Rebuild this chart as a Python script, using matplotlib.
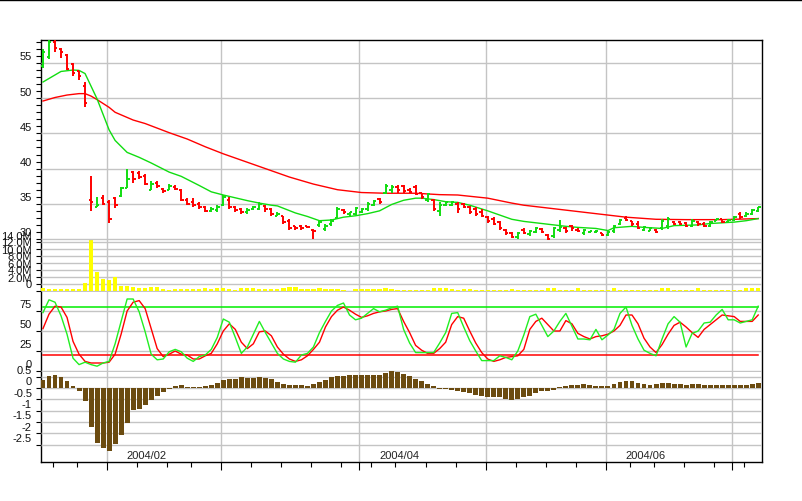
import pandas as pd
import matplotlib
matplotlib.use('Agg')
import matplotlib.pyplot as plt
from matplotlib.collections import LineCollection
from matplotlib.lines import Line2D
from matplotlib.transforms import ScaledTranslation

plt.rcParams['font.family'] = ['Liberation Sans', 'DejaVu Sans']
plt.rcParams['font.size'] = 8

# datas (pregoes, sem feriados)
feriados = ['2004-01-19', '2004-02-16', '2004-04-09', '2004-05-31', '2004-06-11', '2004-07-05']
datas = pd.bdate_range('2004-01-15', '2004-07-08', freq='C', holidays=feriados)

abertura = [54.6, 55.8, 58.0, 57.0, 56.2, 54.8, 53.8, 51.8, 35.5, 34.6,
            35.8, 35.3, 35.8, 36.1, 37.3, 39.5, 39.4, 39.0, 37.0, 38.0,
            37.1, 37.0, 37.4, 37.0, 35.6, 35.2, 35.0, 34.5, 34.0, 34.1,
            34.9, 35.6, 34.6, 34.3, 33.8, 34.2, 34.3, 34.7, 34.2, 33.3,
            33.2, 32.6, 31.8, 31.8, 31.8, 31.3, 32.0, 31.4, 32.1, 33.0,
            34.1, 33.5, 33.6, 33.9, 34.2, 34.9, 35.7, 36.6, 36.9, 37.4,
            37.5, 37.0, 37.4, 36.5, 35.5, 35.5, 34.0, 34.9, 34.9, 35.0,
            35.0, 34.5, 34.2, 33.9, 33.1, 32.9, 32.4, 31.3, 30.9, 30.3,
            31.3, 30.7, 31.0, 31.4, 30.6, 30.4, 31.3, 31.5, 31.8, 31.3,
            30.8, 31.0, 31.0, 30.8, 30.6, 31.1, 32.2, 33.0, 32.5, 32.2,
            31.3, 31.2, 31.3, 31.5, 31.8, 32.4, 32.4, 32.3, 31.9, 32.4,
            32.2, 31.8, 32.5, 32.8, 32.4, 32.7, 33.6, 33.2, 33.5, 34.0]
maxima = [57.0, 58.4, 58.4, 57.1, 56.3, 55.0, 53.9, 52.3, 39.0, 36.0,
          36.3, 35.5, 36.0, 37.4, 39.9, 39.6, 39.6, 39.2, 38.2, 38.2,
          37.2, 37.8, 37.6, 37.1, 35.8, 35.8, 35.2, 34.7, 34.5, 34.8,
          36.2, 35.9, 34.7, 34.4, 34.4, 34.7, 35.2, 34.8, 34.4, 33.8,
          33.3, 32.8, 31.9, 32.0, 31.9, 31.4, 32.7, 32.1, 32.8, 34.5,
          34.3, 33.9, 34.6, 34.4, 35.2, 35.6, 35.8, 37.8, 37.6, 37.7,
          37.7, 37.2, 37.7, 36.6, 36.6, 35.7, 35.2, 35.4, 35.4, 35.2,
          35.1, 34.7, 34.5, 34.2, 33.3, 33.1, 32.6, 31.4, 31.0, 31.0,
          31.5, 31.3, 31.7, 31.6, 30.7, 31.7, 32.7, 31.7, 32.0, 31.5,
          31.4, 31.2, 31.3, 30.9, 31.2, 32.0, 32.9, 33.2, 32.6, 32.5,
          31.9, 31.7, 31.4, 32.9, 33.1, 32.5, 32.5, 32.4, 32.8, 32.6,
          32.4, 32.6, 32.9, 32.9, 32.8, 33.3, 33.8, 33.8, 34.3, 34.6]
minima = [54.3, 55.5, 56.5, 55.7, 54.0, 53.2, 52.6, 48.7, 34.0, 34.5,
          34.8, 32.3, 34.4, 36.0, 37.2, 38.0, 38.5, 37.6, 36.9, 37.3,
          36.6, 36.9, 36.9, 35.4, 34.8, 34.5, 34.3, 33.9, 33.9, 33.9,
          34.7, 34.3, 33.9, 33.6, 33.6, 34.1, 34.1, 33.9, 33.3, 33.2,
          32.1, 31.3, 31.3, 31.3, 31.6, 30.0, 31.7, 31.2, 31.9, 32.8,
          33.6, 33.3, 33.4, 33.7, 34.0, 34.7, 35.0, 36.4, 36.6, 36.6,
          36.5, 36.6, 36.2, 35.7, 35.2, 34.0, 33.2, 34.7, 34.7, 33.7,
          34.4, 33.6, 33.2, 33.1, 32.3, 32.0, 31.3, 30.6, 30.1, 30.0,
          30.7, 30.4, 30.9, 30.8, 29.8, 30.2, 31.0, 30.9, 31.2, 31.0,
          30.6, 30.9, 30.9, 30.4, 30.4, 30.9, 32.0, 32.5, 31.9, 31.4,
          31.2, 31.1, 30.9, 31.3, 31.4, 32.0, 32.0, 31.7, 31.7, 31.9,
          31.7, 31.7, 32.5, 32.3, 32.3, 32.6, 32.9, 33.1, 33.4, 33.9]
fechamento = [56.5, 58.0, 57.2, 56.5, 54.1, 53.6, 53.1, 49.3, 35.2, 34.8,
              35.0, 32.9, 34.9, 37.2, 38.5, 38.5, 38.8, 37.8, 37.8, 37.5,
              36.8, 37.5, 37.1, 35.6, 35.0, 34.9, 34.5, 34.0, 34.2, 34.5,
              36.0, 34.6, 34.1, 33.8, 34.1, 34.5, 35.0, 34.2, 33.6, 33.6,
              32.4, 31.6, 31.5, 31.5, 31.7, 31.2, 32.4, 31.9, 32.6, 34.2,
              33.8, 33.8, 34.4, 34.2, 35.0, 35.4, 35.2, 37.5, 37.4, 36.9,
              36.8, 36.7, 36.4, 35.9, 36.4, 34.3, 34.9, 35.2, 35.2, 34.3,
              34.6, 33.9, 33.5, 33.3, 32.5, 32.2, 31.5, 30.8, 30.3, 30.8,
              30.9, 31.2, 31.5, 31.0, 30.0, 31.5, 31.7, 31.1, 31.5, 31.2,
              31.3, 31.1, 31.2, 30.6, 31.0, 31.8, 32.7, 32.7, 32.1, 31.6,
              31.7, 31.5, 31.0, 32.6, 32.9, 32.2, 32.2, 31.8, 32.5, 32.1,
              31.8, 32.4, 32.8, 32.4, 32.7, 33.1, 33.1, 33.6, 34.1, 34.5]

# medias moveis (indice do pregao, valor)
mm_curta_x = [0, 3, 5, 6, 7, 9, 11, 12, 14, 16, 18, 21, 23, 26, 28, 30, 32, 34, 36, 38,
              39, 42, 44, 46, 48, 50, 52, 54, 56, 58, 60, 62, 63, 65, 67, 69, 71, 74, 76, 78,
              80, 82, 84, 87, 89, 92, 94, 95, 98, 100, 103, 105, 109, 111, 115, 117, 119]
mm_curta_y = [52.3, 53.8, 54.0, 53.95, 53.5, 49.9, 45.5, 44.0, 42.3, 41.6, 40.8, 39.5, 38.9, 37.6,
              36.7, 36.25, 35.85, 35.45, 35.1, 34.8, 34.7, 33.7, 33.2, 32.6, 32.7, 33.1, 33.3, 33.6,
              34.0, 34.9, 35.5, 35.8, 35.8, 35.6, 35.3, 35.2, 34.8, 34.0, 33.4, 32.8, 32.5, 32.3,
              32.1, 31.8, 31.65, 31.5, 31.2, 31.6, 31.8, 31.65, 31.5, 31.9, 32.0, 32.2, 32.4, 32.6, 32.9]
mm_longa_x = [0, 2, 4, 6, 7, 8, 9, 11, 12, 15, 17, 21, 24, 27, 30, 34, 36, 38, 41, 45,
              49, 53, 57, 62, 66, 69, 74, 78, 80, 83, 85, 90, 94, 97, 102, 107, 113, 119]
mm_longa_y = [49.6, 50.1, 50.45, 50.65, 50.65, 50.3, 49.8, 48.7, 48.0, 46.9, 46.4, 45.1, 44.2,
              43.1, 42.1, 40.9, 40.3, 39.7, 38.8, 37.8, 37.0, 36.6, 36.5, 36.5, 36.3, 36.25,
              35.8, 35.1, 34.8, 34.5, 34.3, 33.8, 33.4, 33.1, 32.8, 32.75, 32.75, 32.9]

# volume em milhoes
volume = [0.9, 0.55, 0.55, 0.55, 0.55, 0.55, 0.55, 2.3, 14.5, 5.4,
          3.4, 3.1, 4.0, 1.5, 1.5, 1.1, 0.85, 0.85, 1.1, 1.1,
          0.55, 0.3, 0.55, 0.55, 0.55, 0.55, 0.55, 0.85, 0.55, 0.85,
          0.85, 0.55, 0.3, 0.85, 0.85, 0.85, 0.55, 0.55, 0.7, 0.7,
          1.0, 1.2, 1.2, 0.7, 0.55, 0.55, 0.8, 0.55, 0.55, 0.55,
          0.2, 0.1, 0.55, 0.55, 0.55, 0.55, 0.55, 0.9, 0.55, 0.2,
          0.2, 0.2, 0.2, 0.2, 0.2, 0.9, 0.9, 0.9, 0.55, 0.2,
          0.55, 0.55, 0.2, 0.2, 0.2, 0.2, 0.2, 0.2, 0.55, 0.2,
          0.2, 0.2, 0.2, 0.2, 0.8, 0.8, 0.2, 0.2, 0.2, 0.8,
          0.2, 0.2, 0.2, 0.2, 0.2, 0.8, 0.2, 0.2, 0.2, 0.2,
          0.2, 0.2, 0.2, 0.8, 0.8, 0.2, 0.2, 0.2, 0.2, 0.8,
          0.2, 0.2, 0.2, 0.2, 0.2, 0.2, 0.2, 0.8, 0.8, 0.8]

estoc_k = [73, 89, 86, 69, 46, 16, 8, 11, 8, 6,
           10, 12, 34, 62, 90, 90, 74, 49, 21, 14,
           15, 24, 27, 24, 16, 12, 18, 20, 27, 42,
           65, 61, 42, 22, 30, 46, 62, 48, 35, 22,
           15, 12, 11, 20, 22, 30, 48, 62, 75, 82,
           85, 70, 64, 66, 72, 78, 74, 76, 79, 81,
           52, 35, 23, 23, 23, 23, 35, 48, 72, 73,
           55, 38, 25, 13, 13, 13, 19, 17, 14, 25,
           45, 68, 71, 57, 43, 50, 62, 72, 56, 40,
           40, 39, 52, 39, 45, 52, 72, 80, 57, 40,
           26, 22, 19, 40, 59, 68, 61, 30, 47, 50,
           60, 61, 70, 77, 64, 64, 60, 62, 64, 81]
estoc_d = [53, 71, 81, 80, 67, 37, 21, 12, 10, 10,
           10, 11, 21, 46, 75, 86, 88, 78, 53, 28,
           18, 21, 25, 21, 20, 15, 15, 19, 22, 34,
           50, 59, 52, 36, 28, 34, 49, 50, 44, 30,
           21, 15, 12, 14, 19, 27, 36, 55, 68, 76,
           80, 76, 71, 67, 69, 72, 74, 75, 77, 78,
           62, 48, 32, 26, 22, 22, 28, 36, 58, 68,
           66, 50, 35, 23, 15, 12, 14, 17, 18, 19,
           27, 52, 62, 66, 58, 50, 50, 63, 59, 47,
           43, 40, 43, 44, 46, 50, 57, 70, 70, 59,
           41, 30, 23, 33, 46, 57, 61, 55, 48, 42,
           52, 58, 64, 70, 69, 68, 62, 62, 62, 70]

macd_hist = [0.35, 0.52, 0.57, 0.47, 0.30, 0.08, -0.13, -0.56, -1.71, -2.42,
             -2.67, -2.77, -2.46, -2.07, -1.55, -0.97, -0.93, -0.74, -0.52, -0.34,
             -0.19, -0.04, 0.08, 0.13, 0.04, 0.04, 0.04, 0.10, 0.13, 0.22,
             0.35, 0.40, 0.40, 0.47, 0.45, 0.45, 0.47, 0.45, 0.40, 0.28,
             0.18, 0.13, 0.13, 0.13, 0.10, 0.18, 0.25, 0.37, 0.50, 0.54,
             0.54, 0.58, 0.58, 0.58, 0.58, 0.58, 0.58, 0.66, 0.77, 0.72,
             0.62, 0.52, 0.40, 0.30, 0.18, 0.08, -0.04, -0.04, -0.09, -0.15,
             -0.19, -0.24, -0.31, -0.37, -0.41, -0.41, -0.41, -0.49, -0.52, -0.49,
             -0.39, -0.34, -0.24, -0.15, -0.15, -0.07, 0.03, 0.10, 0.13, 0.13,
             0.18, 0.13, 0.10, 0.10, 0.08, 0.18, 0.28, 0.32, 0.30, 0.22,
             0.18, 0.13, 0.18, 0.22, 0.20, 0.18, 0.18, 0.13, 0.18, 0.18,
             0.13, 0.13, 0.13, 0.13, 0.13, 0.13, 0.13, 0.13, 0.18, 0.22]

VERDE = '#11dd11'
VERMELHO = '#ff0000'
GRADE = '#c4c4c4'
W, H = 802, 502
X0, X1 = 41, 762
n = len(datas)
xs = list(range(n))
xlim = (-0.33, 119.63)

fig = plt.figure(figsize=(W / 100, H / 100), dpi=100)


def painel(y_top, y_bot, z):
    ax = fig.add_axes([X0 / W, 1 - y_bot / H, (X1 - X0) / W, (y_bot - y_top) / H], zorder=z)
    ax.set_xlim(*xlim)
    ax.set_facecolor('none')
    for s in ax.spines.values():
        s.set_visible(False)
    ax.set_xticks([])
    ax.tick_params(axis='y', which='both', direction='out', length=3.5, width=0.8,
                   labelleft=False, color='black')
    return ax


def rotulos(ax, valores, textos):
    trans = ax.get_yaxis_transform() + ScaledTranslation(-9 / 100, 1.5 / 100, fig.dpi_scale_trans)
    for v, t in zip(valores, textos):
        ax.text(0, v, t, transform=trans, ha='right', va='bottom', fontsize=8, color='#111111')


def grade_h(ax, valores):
    for v in valores:
        ax.axhline(v, color=GRADE, lw=1.0, zorder=0)


# moldura com grade vertical (inicio de cada mes) e marcas semanais
frame = fig.add_axes([X0 / W, 1 - 463 / H, (X1 - X0) / W, (463 - 41) / H], zorder=0)
frame.set_xlim(*xlim)
frame.set_ylim(0, 1)
frame.set_yticks([])
for s in frame.spines.values():
    s.set_color('black')
    s.set_linewidth(1.0)
inicio_mes = [i for i in range(1, n) if datas[i].month != datas[i - 1].month]
inicio_sem = [i for i in range(1, n) if datas[i].isocalendar()[1] != datas[i - 1].isocalendar()[1]]
for i in inicio_mes:
    frame.axvline(i - 0.35, color=GRADE, lw=1.0, zorder=0)
frame.set_xticks([i - 0.35 for i in inicio_mes])
frame.set_xticks([i - 0.35 for i in inicio_sem if i not in inicio_mes], minor=True)
frame.tick_params(axis='x', which='major', length=6, width=0.8, direction='out', labelbottom=False)
frame.tick_params(axis='x', which='minor', length=3.5, width=0.8, direction='out')
for i in inicio_mes:
    if datas[i].month % 2 == 0:
        frame.annotate(datas[i].strftime('%Y/%m'), xy=(i + 6.3, 0), xycoords=('data', 'axes fraction'),
                       xytext=(0, 7), textcoords='offset pixels', ha='center', va='center',
                       fontsize=8, color='#222222')

# precos
ax_p = painel(41, 245, 4)
ax_p.set_ylim(30 - 5 / 7.04, 30 + 199 / 7.04)
ax_p.set_yticks([30, 35, 40, 45, 50, 55])
ax_p.set_yticks(list(range(30, 59)), minor=True)
grade_h(ax_p, [30, 35, 40, 45, 50, 55])
rotulos(ax_p, [30, 35, 40, 45, 50, 55], ['30', '35', '40', '45', '50', '55'])
segs = []
cores = []
for i in xs:
    cor = VERDE if fechamento[i] >= abertura[i] else VERMELHO
    segs += [[(i, minima[i]), (i, maxima[i])],
             [(i - 0.4, abertura[i]), (i, abertura[i])],
             [(i, fechamento[i]), (i + 0.4, fechamento[i])]]
    cores += [cor] * 3
ax_p.add_collection(LineCollection(segs, colors=cores, linewidths=1.4, zorder=3))
ax_p.plot(mm_longa_x, mm_longa_y, color=VERMELHO, lw=1.0, zorder=2)
ax_p.plot(mm_curta_x, mm_curta_y, color=VERDE, lw=1.0, zorder=2)

# volume
ax_v = painel(240, 293, 3)
ax_v.set_ylim(-1 / 3.5, 52 / 3.5)
vt = [0, 2, 4, 6, 8, 10, 12, 14]
ax_v.set_yticks(vt)
grade_h(ax_v, vt)
rotulos(ax_v, vt, ['0'] + ['%.1fM' % v for v in vt[1:]])
ax_v.bar(xs, volume, width=0.7, color='#ffff00', zorder=2)

# estocastico
ax_s = painel(292, 373, 3)
ax_s.set_ylim(-1.25, 100)
st = [0, 25, 50, 75]
ax_s.set_yticks(st)
grade_h(ax_s, st)
rotulos(ax_s, st, ['0', '25', '50', '75'])
ax_s.plot([0, n - 1], [80, 80], color='#00ee00', lw=1.1, zorder=2)
ax_s.plot([0, n - 1], [20, 20], color=VERMELHO, lw=1.1, zorder=2)
ax_s.plot(xs, estoc_d, color=VERMELHO, lw=1.0, zorder=3)
ax_s.plot(xs, estoc_k, color='#22ee22', lw=1.0, zorder=3)

# macd
ax_m = painel(372, 463, 3)
ax_m.set_ylim(-74 / 22.6, 17 / 22.6)
mt = [0.5, 0, -0.5, -1, -1.5, -2, -2.5]
ax_m.set_yticks(mt)
grade_h(ax_m, mt)
rotulos(ax_m, mt, ['0.5', '0', '-0.5', '-1', '-1.5', '-2', '-2.5'])
ax_m.bar(xs, macd_hist, width=0.82, color='#6b4b10', zorder=2)

fig.add_artist(Line2D([0, 1], [1 - 0.7 / H, 1 - 0.7 / H], color='black', lw=1.0,
                      transform=fig.transFigure))

plt.savefig('out.png', dpi=100)
